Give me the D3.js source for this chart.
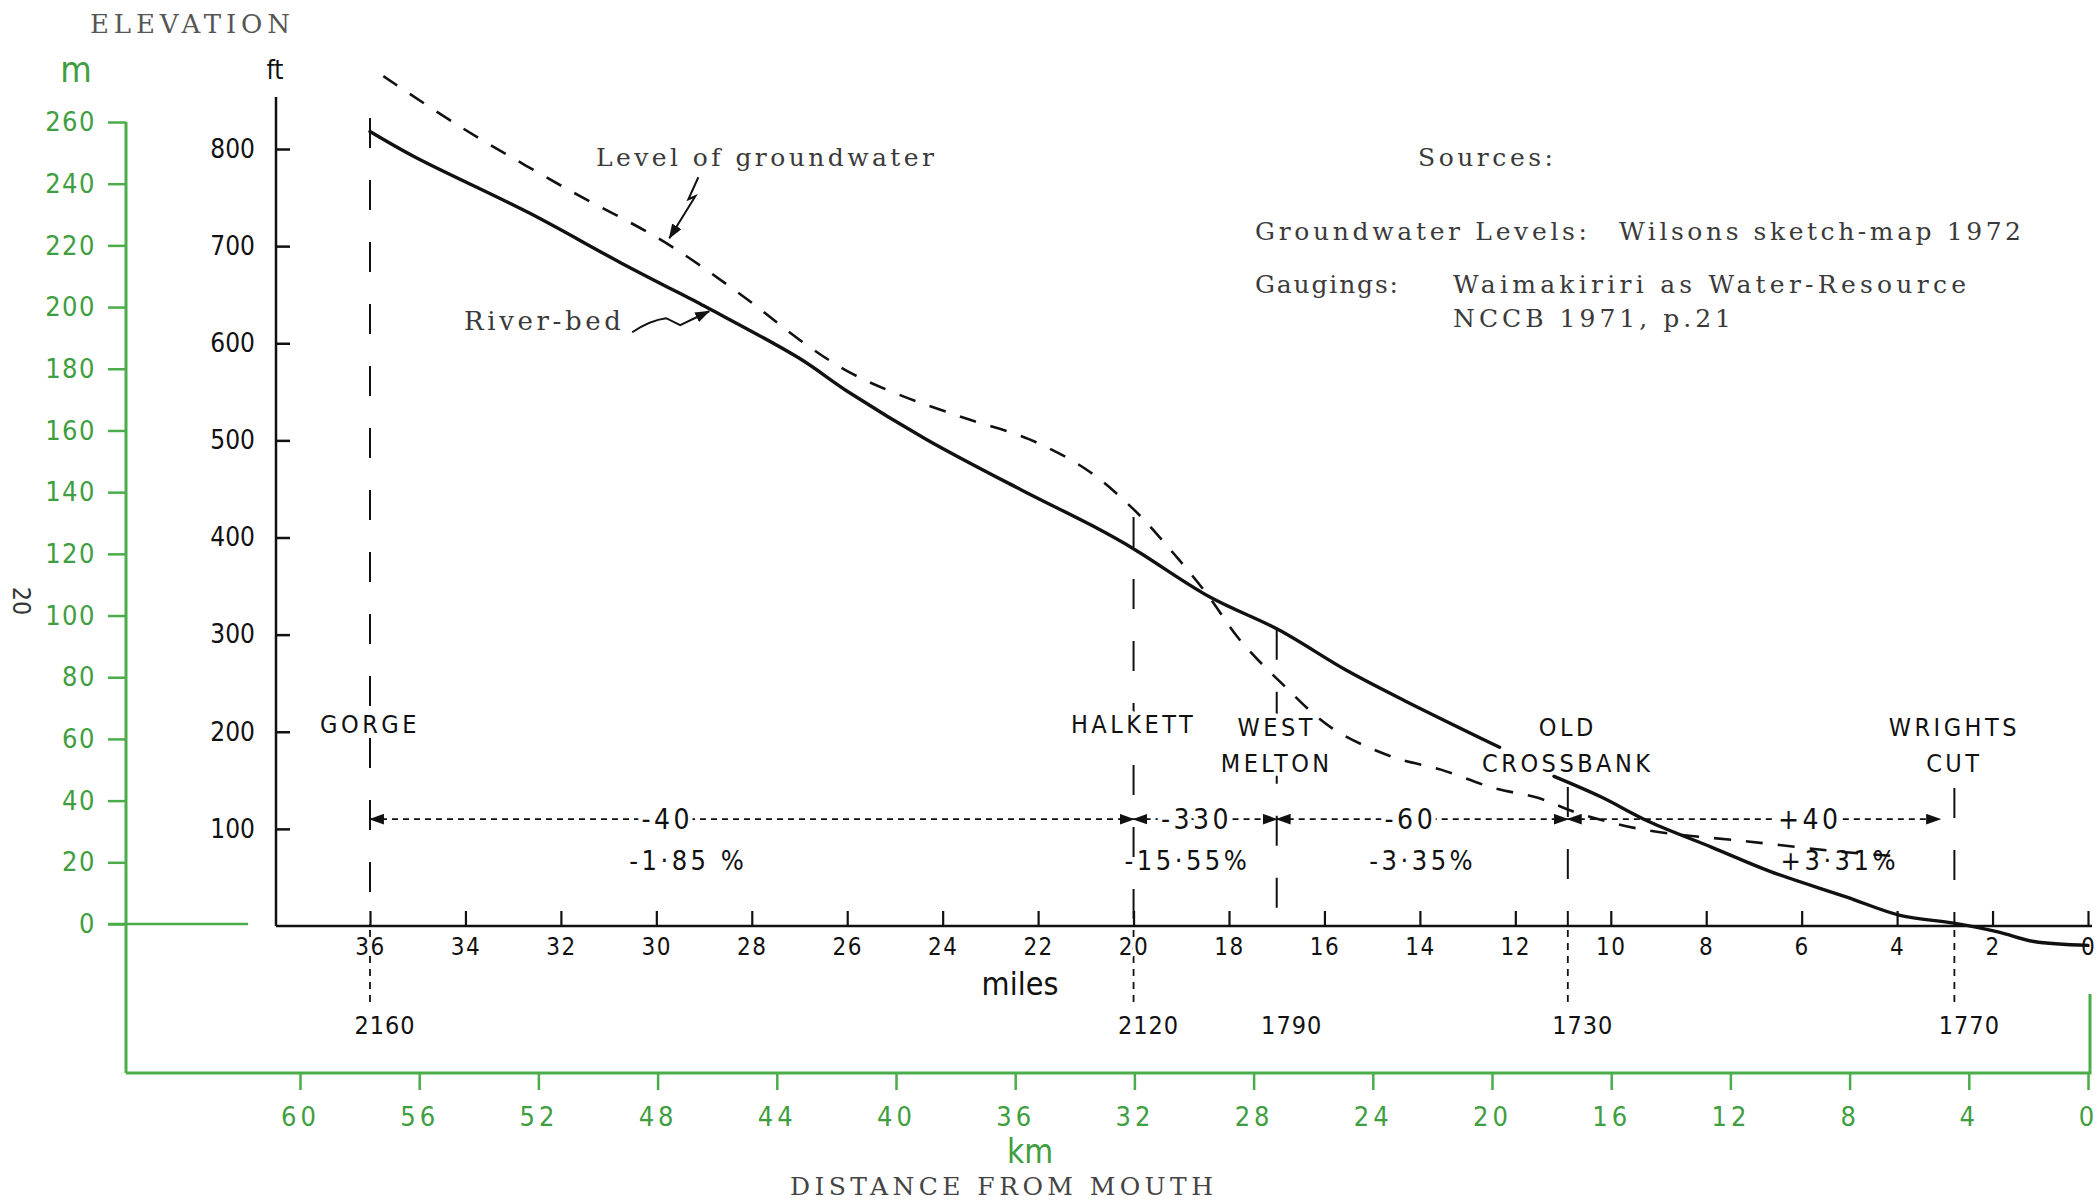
<!DOCTYPE html>
<html>
<head>
<meta charset="utf-8">
<script src="https://cdn.jsdelivr.net/npm/d3@7"></script>
<style>
body { margin: 0; background: #fff; }
svg { display: block; }
.serif { font-family: "DejaVu Serif", "Liberation Serif", serif; fill: #3a3a3a; }
.sans { font-family: "DejaVu Sans Condensed", "DejaVu Sans", sans-serif; font-stretch: condensed; }
.halo { stroke: #fff; stroke-width: 9px; stroke-linejoin: round; paint-order: stroke; }
.halo-s { stroke: #fff; stroke-width: 6px; stroke-linejoin: round; paint-order: stroke; }
</style>
</head>
<body>
<svg id="chart" width="2100" height="1203"></svg>
<script>
// river-bed profile (miles from mouth, feet); null = break under the Old Crossbank label
var bedMiles = [36.0, 35.07, 32.66, 30.75, 29.06, 28.83, 27.02, 25.95, 24.34, 22.35, 20.82, 20.02, 18.41, 16.96, 15.53, 14.32, 12.33, 11.8, 11.19, 10.21, 9.18, 7.88, 6.65, 5.07, 3.94, 2.81, 1.89, 1.13, 0];
var bedFeet = [818, 792, 734, 683, 640, 634, 585, 549, 501, 449, 411, 389, 339, 305, 263, 232, 184, null, 154, 133, 107, 81, 56, 30, 11, 3, -6, -16, -20];

// groundwater level
var gwMiles = [35.72, 34.11, 31.95, 29.79, 28.09, 26.90, 25.95, 24.91, 23.54, 22.18, 20.99, 20.02, 19.22, 18.45, 17.78, 16.90, 15.85, 14.57, 13.56, 12.45, 11.53, 10.67, 9.29, 7.13, 5.07, 4.05];
var gwFeet = [875, 823, 761, 703, 645, 600, 570, 547, 523, 501, 470, 430, 387, 341, 295, 250, 204, 174, 161, 142, 132, 116, 99, 87, 76, 72];

// gauging stations
var locNames = [["GORGE"], ["HALKETT"], ["WEST", "MELTON"], ["OLD", "CROSSBANK"], ["WRIGHTS", "CUT"]];
var locMiles = [36, 20, 17, 10.9, 2.8];
var locTopFeet = [832, 421, 305, 143, 142];
var locFlow = ["2160", "2120", "1790", "1730", "1770"];
var locDrop = [true, true, false, true, true];

// changes between stations
var changeFrom = [36, 20, 17, 10.9];
var changeTo = [20, 17, 10.9, 3.1];
var changeLevelFeet = 110;
var changeText = ["-40", "-330", "-60", "+40"];
var changeTextMiles = [29.77, 18.68, 14.2, 5.83];
var pctText = ["-1·85 %", "-15·55%", "-3·35%", "+3·31%"];
var pctTextMiles = [29.33, 18.87, 13.94, 5.2];

// axis ticks
var mileTicks = d3.range(0, 37, 2);
var feetTicks = [100, 200, 300, 400, 500, 600, 700, 800];
var meterTicks = d3.range(0, 261, 20);
var kmTicks = d3.range(0, 61, 4);

var black = "#111";
var green = "#4aad4a";
var greenText = "#3f9e3f";

var svg = d3.select("#chart");

var xMi = d3.scaleLinear().domain([0, 36]).range([2088, 370]);
var yFt = d3.scaleLinear().domain([0, 800]).range([926, 149]);
var xKm = d3.scaleLinear().domain([0, 60]).range([2088, 300]);
var yM = d3.scaleLinear().domain([0, 260]).range([924, 122]);

svg.append("defs").append("marker")
    .attr("id", "arrow")
    .attr("markerUnits", "userSpaceOnUse")
    .attr("viewBox", "0 0 14 10")
    .attr("refX", 13).attr("refY", 5)
    .attr("markerWidth", 15).attr("markerHeight", 11)
    .attr("orient", "auto-start-reverse")
    .append("path").attr("d", "M0,0 L14,5 L0,10 Z").attr("fill", black);

// ---------- green metric frame ----------
var gM = svg.append("g").attr("transform", "translate(126,0)")
    .call(d3.axisLeft(yM).tickValues(meterTicks).tickSize(18).tickPadding(12));
gM.select(".domain").remove();
gM.selectAll(".tick line").attr("stroke", green).attr("stroke-width", 2.5);
gM.selectAll(".tick text").attr("class", "sans").attr("fill", greenText)
    .style("font-size", "27px").style("letter-spacing", "1.5px");

svg.append("line").attr("x1", 126).attr("x2", 126).attr("y1", yM(260)).attr("y2", 1073)
    .attr("stroke", green).attr("stroke-width", 3);
svg.append("line").attr("x1", 108).attr("x2", 248).attr("y1", yM(0)).attr("y2", yM(0))
    .attr("stroke", green).attr("stroke-width", 2.5);

var gKm = svg.append("g").attr("transform", "translate(0,1073)")
    .call(d3.axisBottom(xKm).tickValues(kmTicks).tickSize(17).tickPadding(17));
gKm.select(".domain").remove();
gKm.selectAll(".tick line").attr("stroke", green).attr("stroke-width", 2.5);
gKm.selectAll(".tick text").attr("class", "sans").attr("fill", greenText)
    .style("font-size", "27px").style("letter-spacing", "4px");

svg.append("path")
    .attr("d", "M126,1073 L2090,1073 L2090,994")
    .attr("fill", "none").attr("stroke", green).attr("stroke-width", 3);

svg.append("text").attr("class", "sans").attr("x", 76).attr("y", 82)
    .attr("text-anchor", "middle").attr("fill", greenText).style("font-size", "36px").text("m");
svg.append("text").attr("class", "sans").attr("x", 1030).attr("y", 1163)
    .attr("text-anchor", "middle").attr("fill", greenText).style("font-size", "33px").text("km");

// ---------- black imperial axes ----------
var gFt = svg.append("g").attr("transform", "translate(276,0)")
    .call(d3.axisLeft(yFt).tickValues(feetTicks).tickSize(-14).tickPadding(21));
gFt.select(".domain").remove();
gFt.selectAll(".tick line").attr("stroke", black).attr("stroke-width", 2.5);
gFt.selectAll(".tick text").attr("class", "sans").attr("fill", black).style("font-size", "26px");
svg.append("line").attr("x1", 276).attr("x2", 276).attr("y1", 97).attr("y2", yFt(0))
    .attr("stroke", black).attr("stroke-width", 2.5);

svg.append("text").attr("class", "sans").attr("x", 275).attr("y", 79)
    .attr("text-anchor", "middle").attr("fill", black).style("font-size", "26px").text("ft");
svg.append("text").attr("class", "sans").attr("x", 1020).attr("y", 995)
    .attr("text-anchor", "middle").attr("fill", black).style("font-size", "32px").text("miles");

svg.append("text").attr("class", "sans").attr("transform", "translate(13,601) rotate(90)")
    .attr("text-anchor", "middle").attr("fill", "#333").style("font-size", "25px").text("20");

// ---------- station lines ----------
var loc = locNames.map(function (n, i) {
    return { name: n, mi: locMiles[i], top: locTopFeet[i], flow: locFlow[i], drop: locDrop[i] };
});

svg.append("g").selectAll("line").data(loc).enter().append("line")
    .attr("x1", function (d) { return xMi(d.mi); }).attr("x2", function (d) { return xMi(d.mi); })
    .attr("y1", function (d) { return yFt(d.top); }).attr("y2", yFt(0))
    .attr("stroke", black).attr("stroke-width", 2).attr("stroke-dasharray", "30,32");

svg.append("g").selectAll("line").data(loc.filter(function (d) { return d.drop; })).enter().append("line")
    .attr("x1", function (d) { return xMi(d.mi); }).attr("x2", function (d) { return xMi(d.mi); })
    .attr("y1", yFt(0) + 4).attr("y2", 1008)
    .attr("stroke", black).attr("stroke-width", 1.8).attr("stroke-dasharray", "7,6");

svg.append("g").selectAll("text").data(loc).enter().append("text")
    .attr("class", "sans").attr("fill", black)
    .attr("x", function (d) { return xMi(d.mi) + 15; }).attr("y", 1034)
    .attr("text-anchor", "middle").style("font-size", "25px").style("letter-spacing", "1px")
    .text(function (d) { return d.flow; });

// miles axis drawn after the drop lines so its labels sit on top of them
var gMi = svg.append("g").attr("transform", "translate(0," + yFt(0) + ")")
    .call(d3.axisBottom(xMi).tickValues(mileTicks).tickSize(-15).tickPadding(12).tickFormat(d3.format("d")));
gMi.select(".domain").remove();
gMi.selectAll(".tick line").attr("stroke", black).attr("stroke-width", 2.2);
gMi.selectAll(".tick text").attr("class", "sans halo-s").attr("fill", black)
    .style("font-size", "24px").style("letter-spacing", "1.5px");
svg.append("line").attr("x1", 276).attr("x2", 2092).attr("y1", yFt(0)).attr("y2", yFt(0))
    .attr("stroke", black).attr("stroke-width", 2.5);

// ---------- change arrows at ~100 ft ----------
var yChange = yFt(changeLevelFeet);
svg.append("g").selectAll("line").data(changeFrom).enter().append("line")
    .attr("x1", function (d) { return xMi(d); })
    .attr("x2", function (d, i) { return xMi(changeTo[i]); })
    .attr("y1", yChange).attr("y2", yChange)
    .attr("stroke", black).attr("stroke-width", 1.6).attr("stroke-dasharray", "6,5")
    .attr("marker-start", "url(#arrow)").attr("marker-end", "url(#arrow)");

// ---------- text labels with white halo ----------
var labels = svg.append("g");
loc.forEach(function (d) {
    var single = d.name.length === 1;
    d.name.forEach(function (t, j) {
        labels.append("text").attr("class", "sans halo").attr("fill", black)
            .attr("x", xMi(d.mi)).attr("y", single ? 733 : 736 + j * 36)
            .attr("text-anchor", "middle").style("font-size", "25px").style("letter-spacing", "3.5px")
            .text(t);
    });
});
changeText.forEach(function (t, i) {
    labels.append("text").attr("class", "sans halo").attr("fill", black)
        .attr("x", xMi(changeTextMiles[i])).attr("y", yChange + 10)
        .attr("text-anchor", "middle").style("font-size", "28px").style("letter-spacing", "3.5px")
        .text(t);
    labels.append("text").attr("class", "sans halo-s").attr("fill", black)
        .attr("x", xMi(pctTextMiles[i])).attr("y", yChange + 51)
        .attr("text-anchor", "middle").style("font-size", "27px").style("letter-spacing", "3.5px")
        .text(pctText[i]);
});

// ---------- profiles ----------
var bed = bedMiles.map(function (m, i) { return { mi: m, ft: bedFeet[i] }; });
var gw = gwMiles.map(function (m, i) { return { mi: m, ft: gwFeet[i] }; });

var line = d3.line()
    .defined(function (d) { return d.ft !== null; })
    .x(function (d) { return xMi(d.mi); })
    .y(function (d) { return yFt(d.ft); })
    .curve(d3.curveCatmullRom);

svg.append("path").datum(gw).attr("d", line)
    .attr("fill", "none").attr("stroke", black).attr("stroke-width", 2.6).attr("stroke-dasharray", "17,15");
svg.append("path").datum(bed).attr("d", line)
    .attr("fill", "none").attr("stroke", black).attr("stroke-width", 3.4).attr("stroke-linecap", "round");

// pointers to the curves
var gTip = [xMi(gwMiles[3]), yFt(gwFeet[3])];
svg.append("path")
    .attr("d", "M" + (gTip[0] + 32) + "," + (gTip[1] - 66) + " L" + (gTip[0] + 22) + "," + (gTip[1] - 44) +
        " L" + (gTip[0] + 29) + "," + (gTip[1] - 47) + " L" + (gTip[0] + 3) + "," + (gTip[1] - 5))
    .attr("fill", "none").attr("stroke", black).attr("stroke-width", 2).attr("marker-end", "url(#arrow)");
var bTip = [xMi(bedMiles[5]), yFt(bedFeet[5])];
svg.append("path")
    .attr("d", "M" + (bTip[0] - 80) + "," + (bTip[1] + 22) + " Q" + (bTip[0] - 62) + "," + (bTip[1] + 10) +
        " " + (bTip[0] - 46) + "," + (bTip[1] + 8) + " L" + (bTip[0] - 32) + "," + (bTip[1] + 15) +
        " L" + (bTip[0] - 3) + "," + (bTip[1] + 1))
    .attr("fill", "none").attr("stroke", black).attr("stroke-width", 2).attr("marker-end", "url(#arrow)");

// ---------- serif annotations ----------
function serif(x, y, size, len, t, fill) {
    svg.append("text").attr("class", "serif").attr("x", x).attr("y", y)
        .attr("textLength", len).attr("lengthAdjust", "spacing")
        .style("font-size", size + "px").style("fill", fill || "#3a3a3a").text(t);
}
serif(90, 33, 26, 200, "ELEVATION", "#555");
serif(596, 166, 25, 338, "Level of groundwater");
serif(464, 330, 26, 157, "River-bed");
serif(1418, 166, 25, 135, "Sources:");
serif(1255, 240, 25, 332, "Groundwater Levels:");
serif(1619, 240, 25, 402, "Wilsons sketch-map 1972");
serif(1255, 293, 25, 143, "Gaugings:");
serif(1453, 293, 25, 513, "Waimakiriri as Water-Resource");
serif(1453, 327, 25, 278, "NCCB 1971, p.21");
serif(790, 1195, 25, 423, "DISTANCE FROM MOUTH", "#444");
</script>
</body>
</html>
